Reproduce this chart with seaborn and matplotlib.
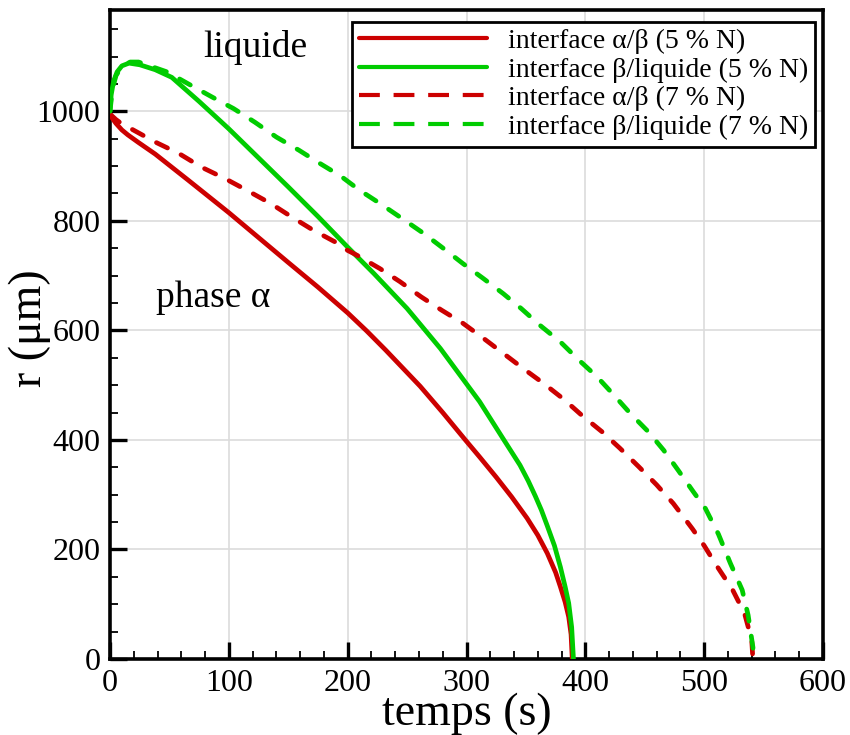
import numpy as np
import pandas as pd
import matplotlib
matplotlib.use("Agg")
import matplotlib.pyplot as plt
import seaborn as sns
from matplotlib.ticker import MultipleLocator
from matplotlib.lines import Line2D

# ---- data ----
t_ab5 = [0, 2, 5, 10, 15, 24, 38, 66, 100, 150, 175, 200, 216, 232, 261, 280, 299, 311, 325, 338,
         351, 360, 368, 375, 379, 383, 386, 388, 389]
r_ab5 = [995, 987, 978, 966, 957, 943, 922, 874, 815, 724, 679, 632, 599, 564, 498, 450, 400, 369,
         332, 296, 257, 226, 193, 158, 132, 104, 77, 45, 0]

t_bl5 = [0, 1, 3, 6, 10, 16, 25, 38, 52, 75, 100, 125, 150, 175, 200, 222, 250, 278, 295, 311,
         330, 345, 352, 358, 363, 368, 374, 379, 383, 386, 388.5, 390]
r_bl5 = [1000, 1030, 1055, 1072, 1083, 1088, 1085, 1076, 1062, 1018, 968, 915, 862, 808, 752,
         704, 640, 567, 517, 470, 405, 354, 325, 297, 272, 243, 207, 168, 132, 102, 58, 0]

t_ab7 = [0, 5, 10, 17, 38, 58, 77, 97, 115, 135, 153, 171, 189, 200, 208, 227, 244, 262, 279, 297,
         314, 331, 348, 365, 382, 397, 414, 429, 445, 460, 474, 490, 500, 510, 524, 534, 540, 541]
r_ab7 = [995, 985, 977, 969, 944, 923, 898, 877, 856, 832, 807, 783, 762, 746, 737, 713, 689, 661,
         637, 613, 586, 558, 530, 503, 474, 445, 415, 385, 351, 318, 284, 238, 207, 172, 126, 83, 35, 0]

t_bl7 = [0, 2, 5, 10, 17, 24, 48, 66, 86, 104, 122, 140, 159, 175, 194, 210, 227, 246, 264, 281,
         297, 314, 331, 346, 362, 379, 394, 410, 424, 438, 453, 466, 478, 491, 501, 512, 522, 532,
         537, 541, 542]
r_bl7 = [1000, 1040, 1065, 1082, 1090, 1090, 1072, 1050, 1026, 1005, 980, 953, 929, 907, 882, 856,
         832, 804, 777, 749, 722, 695, 667, 640, 609, 579, 547, 515, 482, 448, 415, 381, 345, 305,
         275, 228, 175, 126, 80, 22, 0]

labels = ["interface α/β (5 % N)", "interface β/liquide (5 % N)",
          "interface α/β (7 % N)", "interface β/liquide (7 % N)"]
xticks = [0, 100, 200, 300, 400, 500, 600]
yticks = [0, 200, 400, 600, 800, 1000]

RED = "#cc0000"
GREEN = "#00cc00"

sns.set_style("white")
plt.rcParams["font.family"] = ["Liberation Serif", "DejaVu Serif"]
plt.rcParams["text.color"] = "black"
plt.rcParams["axes.labelcolor"] = "black"
plt.rcParams["xtick.color"] = "black"
plt.rcParams["ytick.color"] = "black"

fig = plt.figure(figsize=(8.5, 7.35), dpi=100)
ax = fig.add_axes([110 / 850, 76 / 735, 713 / 850, 649 / 735])

ax.grid(True, which="major", color="#dcdcdc", lw=1.2, zorder=0)
ax.set_axisbelow(True)

series = [(t_ab5, r_ab5, RED, "-"), (t_bl5, r_bl5, GREEN, "-"),
          (t_ab7, r_ab7, RED, (0, (2.6, 3.2))), (t_bl7, r_bl7, GREEN, (0, (2.6, 3.2)))]
for (t, r, c, ls), lab in zip(series, labels):
    df = pd.DataFrame({"t": t, "r": r})
    sns.lineplot(data=df, x="t", y="r", ax=ax, color=c, lw=3.4, linestyle=ls,
                 sort=False, estimator=None, dash_capstyle="round",
                 solid_joinstyle="round", legend=False, zorder=3)

ax.set_xlim(0, 600)
ax.set_ylim(0, 1185)
ax.set_xticks(xticks)
ax.set_yticks(yticks)
ax.xaxis.set_minor_locator(MultipleLocator(20))
ax.yaxis.set_minor_locator(MultipleLocator(50))
ax.tick_params(which="major", direction="in", length=12, width=2.4, labelsize=23,
               bottom=True, left=True, top=False, right=False, pad=7, colors="black")
ax.tick_params(which="minor", direction="in", length=6, width=1.3,
               bottom=True, left=True, top=False, right=False, colors="black")
for s in ax.spines.values():
    s.set_linewidth(2.6)
    s.set_color("black")

ax.set_xlabel("temps (s)", fontsize=33, labelpad=-4)
ax.set_ylabel("r (μm)", fontsize=33)
ax.yaxis.set_label_coords(-0.083, 0.51)

ax.text(122, 1117, "liquide", fontsize=27, ha="center", va="center")
ax.text(87, 659, "phase α", fontsize=27, ha="center", va="center")

handles = [Line2D([], [], color=RED, lw=3.0),
           Line2D([], [], color=GREEN, lw=3.0),
           Line2D([], [], color=RED, lw=3.0, ls=(0, (5, 3.3))),
           Line2D([], [], color=GREEN, lw=3.0, ls=(0, (5, 3.3)))]
leg = ax.legend(handles, labels, loc="upper right", bbox_to_anchor=(0.989, 0.982),
                fontsize=20, frameon=True, fancybox=False, framealpha=1,
                edgecolor="black", handlelength=4.6, handletextpad=0.75,
                labelspacing=0.11, borderpad=0.25, borderaxespad=0)
leg.get_frame().set_linewidth(2.0)

fig.savefig("out.png", dpi=100)
